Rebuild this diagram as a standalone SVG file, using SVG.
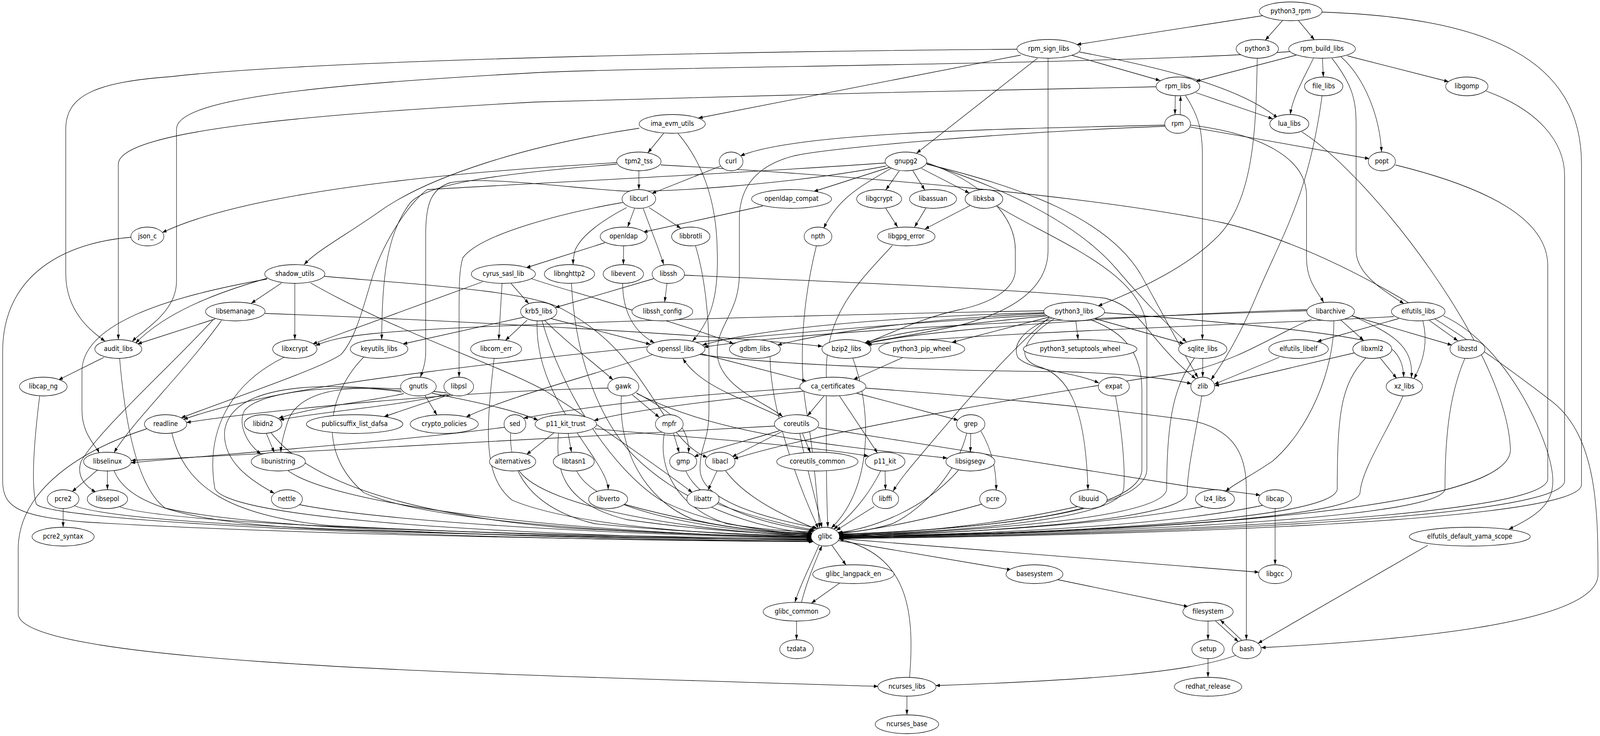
<svg xmlns="http://www.w3.org/2000/svg" width="4841" height="1883" viewBox="0 0 4841 1883" preserveAspectRatio="none" style="width:100%;height:100%">
<defs>
<marker id="arr" viewBox="0 0 13 9" refX="13" refY="4.5" markerWidth="13" markerHeight="9" markerUnits="userSpaceOnUse" orient="auto"><path d="M0,0 L13,4.5 L0,9 z" fill="#000"/></marker>
</defs>
<style>
.n ellipse{fill:#fff;stroke:#000;stroke-width:1.3}
.n text{font-family:"DejaVu Sans","Liberation Sans",sans-serif;font-size:18.3px;text-anchor:middle;fill:#000}
#edges path{fill:none;stroke:#000;stroke-width:1.3;marker-end:url(#arr)}
</style>
<rect width="4841" height="1883" fill="#fff"/>
<g id="edges">
<path d="M3821,40 L3258,114"/>
<path d="M3881,52 L3828,103"/>
<path d="M3928,52 L3977,102"/>
<path d="M4000,31 C4500,45 4785,150 4785,420 L4785,1240 C4785,1340 3300,1372 2539,1378"/>
<path d="M3077,126 C2400,130 1000,150 517,196 C300,210 199,240 199,330 L199,700 C199,800 280,850 318,873"/>
<path d="M3088,141 L2113,302"/>
<path d="M3139,149 L2773,392"/>
<path d="M3241,141 L3510,206"/>
<path d="M3266,133 C3560,180 3760,230 3866,302"/>
<path d="M3171,149 L3171,640 C3171,720 3100,790 2900,833 C2780,855 2680,868 2618,877"/>
<path d="M3804,149 C3800,300 3800,500 3690,600 C3600,680 3450,740 3322,783"/>
<path d="M3902,132 C3400,165 2000,170 1620,186 C1000,215 534,250 534,330 L534,720 C534,800 430,845 400,874"/>
<path d="M3922,141 L3618,208"/>
<path d="M4001,149 L4004,197"/>
<path d="M4077,143 L4383,209"/>
<path d="M3974,149 C3945,200 3910,250 3904,293"/>
<path d="M4057,145 C4130,200 4175,300 4180,389"/>
<path d="M4030,149 C4095,220 4103,260 4103,320 L4103,640 C4103,700 4180,740 4248,777"/>
<path d="M3498,222 C3000,230 1700,255 1620,261 C1000,290 358,330 358,420 L358,869"/>
<path d="M3556,245 L3555,293"/>
<path d="M3618,237 L3851,304"/>
<path d="M3587,245 C3630,300 3638,340 3638,400 L3638,869"/>
<path d="M3571,293 L3572,245"/>
<path d="M3525,320 C3000,330 2400,340 2240,399"/>
<path d="M3601,325 L4143,406"/>
<path d="M3525,323 C3000,340 2500,380 2406,398 C2300,420 2237,470 2237,560 L2237,700 C2237,800 2170,830 2170,900 C2170,990 2320,1030 2368,1066"/>
<path d="M3602,320 C3800,340 3953,400 3953,500 L3953,660 C3953,720 3990,750 4005,774"/>
<path d="M4000,245 C3960,500 3880,600 3800,760 C3740,880 3690,940 3664,972"/>
<path d="M4496,233 C4650,280 4734,360 4734,450 L4734,1230 C4734,1335 3300,1370 2539,1377"/>
<path d="M3938,337 C4150,450 4560,900 4570,1150 C4575,1320 3300,1365 2540,1375"/>
<path d="M4222,422 C4500,480 4683,560 4683,680 L4683,1225 C4683,1330 3300,1368 2540,1376"/>
<path d="M2008,341 L1960,391"/>
<path d="M1934,328 C1600,370 1300,450 1150,540 C1050,600 960,640 920,677"/>
<path d="M2051,341 C2130,420 2168,520 2170,640 C2175,760 2150,820 2095,873"/>
<path d="M1933,437 L1933,485"/>
<path d="M1866,416 C1600,430 800,470 491,595"/>
<path d="M1866,420 C1500,445 1290,470 1240,520 C1180,590 1155,680 1155,869"/>
<path d="M1999,422 C2600,450 3300,500 3700,570 C4100,650 4500,900 4700,1030 C4830,1120 4835,1300 4835,1470 C4835,1600 4200,1640 3816,1657"/>
<path d="M2180,425 L1972,495"/>
<path d="M2695,427 L2462,490"/>
<path d="M2721,437 L2680,486"/>
<path d="M2762,437 L2798,486"/>
<path d="M2788,431 L2933,494"/>
<path d="M2697,430 C2620,470 2540,500 2492,584"/>
<path d="M2680,425 C2400,470 2000,495 1869,488 C1700,478 1450,450 1360,468 C1300,485 1288,530 1288,600 L1288,900 C1288,930 1278,950 1272,965"/>
<path d="M2678,417 C2300,440 1700,465 1293,485 C1250,510 1170,600 1130,700 C1100,780 1080,860 1033,906 C980,940 700,1020 548,1069"/>
<path d="M2804,416 C2950,460 3072,540 3072,640 L3072,690 C3072,740 3000,775 2900,793 C2780,815 2680,860 2614,879"/>
<path d="M2803,418 C3000,470 3250,560 3380,690 C3450,760 3530,830 3590,875"/>
<path d="M2804,420 C3100,480 3350,560 3450,700 C3530,820 3590,920 3625,966"/>
<path d="M1920,533 L1899,581"/>
<path d="M1964,531 L2060,584"/>
<path d="M1896,531 C1830,560 1760,600 1740,640 C1735,655 1734,665 1734,677"/>
<path d="M1946,533 C1975,600 1995,640 2008,677"/>
<path d="M1884,518 C1700,545 1450,600 1400,660 C1390,690 1389,720 1389,800 L1389,965"/>
<path d="M2308,527 L1946,594"/>
<path d="M2680,533 L2716,581"/>
<path d="M2801,533 L2767,581"/>
<path d="M2935,526 L2798,586"/>
<path d="M1830,621 L1592,685"/>
<path d="M1887,629 L1886,677"/>
<path d="M2104,628 C2130,700 2145,800 2145,900 L2145,1050 C2145,1130 2118,1140 2118,1200 C2118,1300 2420,1340 2474,1352"/>
<path d="M2470,629 C2420,800 2420,950 2440,1050 C2460,1150 2470,1250 2480,1351"/>
<path d="M2700,628 C2600,720 2500,800 2500,950 L2500,1100 C2500,1200 2502,1300 2505,1349"/>
<path d="M397,607 C200,620 8,700 8,900 L8,1230 C8,1300 60,1320 250,1335 C900,1370 2100,1385 2459,1384"/>
<path d="M808,712 C650,750 500,800 410,878"/>
<path d="M852,724 L760,776"/>
<path d="M892,725 L892,869"/>
<path d="M808,714 C500,760 248,830 248,950 L248,1050 C248,1110 290,1140 300,1159"/>
<path d="M981,707 C1300,730 1600,745 1700,790 C1900,880 1950,1000 2050,1110 C2090,1150 2115,1162 2140,1170"/>
<path d="M940,724 C1200,850 1500,930 1650,1000 C1800,1080 2000,1200 2095,1260"/>
<path d="M1546,725 L1600,777"/>
<path d="M1460,721 L946,880"/>
<path d="M1519,725 L1509,869"/>
<path d="M1605,712 C1700,740 1800,760 1900,790 C2050,830 2150,855 2220,880"/>
<path d="M1729,725 C1740,900 1800,1050 1900,1150 C2050,1290 2300,1355 2458,1364"/>
<path d="M1884,725 C1884,800 1920,850 1980,877"/>
<path d="M1978,713 L1680,787"/>
<path d="M2018,725 L2011,773"/>
<path d="M2071,704 C2500,720 3100,740 3344,763 C3420,780 3450,820 3500,870 C3560,930 3590,950 3618,969"/>
<path d="M651,816 L416,880"/>
<path d="M802,802 C1400,820 2200,860 2488,886"/>
<path d="M670,820 C560,950 400,1080 345,1158"/>
<path d="M645,818 C500,950 300,1100 245,1181 C230,1220 260,1245 290,1259"/>
<path d="M1587,811 L1219,880"/>
<path d="M1595,819 L1529,871"/>
<path d="M1667,815 L1968,881"/>
<path d="M1648,820 C1720,880 1800,930 1855,972"/>
<path d="M1625,821 C1620,950 1700,1050 1780,1150 C1820,1200 1840,1230 1840,1253"/>
<path d="M1640,821 C1700,1000 1850,1200 2000,1280 C2150,1345 2350,1364 2457,1365"/>
<path d="M3159,795 C2500,805 1400,830 1136,853 C1050,860 1000,868 955,884"/>
<path d="M3160,800 C2700,810 2300,840 2125,883"/>
<path d="M3160,802 C2800,815 2500,850 2352,883"/>
<path d="M3170,808 C2900,830 2700,850 2616,878"/>
<path d="M3175,811 L2880,876"/>
<path d="M3255,821 L3262,869"/>
<path d="M3312,815 L3582,879"/>
<path d="M3341,800 C3800,830 4180,860 4220,900 C4240,920 4246,940 4247,965"/>
<path d="M3162,806 C2600,830 1800,900 1600,920 C1200,960 800,1000 555,1073"/>
<path d="M3185,813 C3100,840 3060,880 3080,915 C3120,950 3250,950 3325,980"/>
<path d="M3175,812 C3050,900 2900,1050 2800,1150 C2750,1200 2720,1230 2702,1257"/>
<path d="M3190,815 C3090,870 3070,920 3150,940 C3260,970 3285,1100 3292,1253"/>
<path d="M3300,818 C3400,850 3455,900 3455,1000 L3455,1200 C3455,1320 2900,1358 2538,1366"/>
<path d="M3954,792 C3500,805 2800,840 2620,880"/>
<path d="M3954,795 C3400,810 2500,840 2130,888"/>
<path d="M4057,819 L4126,871"/>
<path d="M4090,808 L4393,883"/>
<path d="M4092,808 C4200,850 4280,880 4270,967"/>
<path d="M4036,821 C4036,950 3960,1100 3850,1180 C3780,1220 3730,1240 3708,1258"/>
<path d="M3969,816 C3850,860 3750,920 3600,950 C3200,1000 2500,1100 2220,1174"/>
<path d="M4217,810 C3800,830 3000,850 2624,882"/>
<path d="M4232,815 L3985,874"/>
<path d="M4325,820 L4411,872"/>
<path d="M4305,821 C4320,870 4310,920 4278,969"/>
<path d="M4367,808 C4500,860 4620,1000 4680,1150 C4720,1260 4700,1300 4565,1354"/>
<path d="M315,914 L177,972"/>
<path d="M362,917 C380,1100 420,1250 500,1300 C800,1360 1800,1380 2459,1384"/>
<path d="M860,914 C700,980 620,1100 650,1250 C700,1340 1800,1375 2457,1382"/>
<path d="M1100,914 C1000,1000 950,1150 1100,1260 C1300,1340 2000,1370 2454,1373"/>
<path d="M1495,917 C1470,1100 1460,1220 1550,1280 C1750,1350 2200,1370 2454,1372"/>
<path d="M2117,904 L2440,975"/>
<path d="M1975,907 C1800,960 1550,1010 1410,1067"/>
<path d="M2117,907 C2400,940 3000,950 3220,951 C3400,955 3550,970 3605,982"/>
<path d="M2330,912 C2330,1050 2420,1250 2476,1352"/>
<path d="M2580,916 C2640,1050 2640,1250 2515,1351"/>
<path d="M2731,915 L2582,971"/>
<path d="M3639,917 L3639,965"/>
<path d="M3614,916 C3560,980 3530,1050 3530,1250 C3530,1330 2900,1360 2540,1371"/>
<path d="M3871,914 L3674,983"/>
<path d="M4097,903 L3675,987"/>
<path d="M4176,916 L4226,968"/>
<path d="M4132,916 C4060,980 4046,1050 4046,1250 C4046,1340 3000,1369 2540,1373"/>
<path d="M4432,917 C4390,1000 4372,1100 4372,1250 C4372,1340 3000,1370 2540,1374"/>
<path d="M120,1013 C100,1150 95,1250 110,1290 C150,1330 1200,1380 2461,1386"/>
<path d="M1222,1007 C1100,1030 950,1040 843,1070"/>
<path d="M1286,1012 L1322,1062"/>
<path d="M1307,1006 C1450,1030 1560,1050 1628,1075"/>
<path d="M1215,1003 C1050,980 900,1000 870,1080 C855,1120 850,1140 850,1157"/>
<path d="M1213,1000 C900,970 700,1000 680,1100 C670,1180 760,1230 830,1262"/>
<path d="M1355,1008 C1200,1040 1000,1050 846,1074"/>
<path d="M1362,1009 L1162,1066"/>
<path d="M1350,1005 C1100,980 800,990 740,1050 C720,1080 740,1130 790,1162"/>
<path d="M1913,1010 L1995,1068"/>
<path d="M1925,1005 C2000,1040 2090,1080 2083,1159"/>
<path d="M1927,1007 C2150,1100 2400,1130 2866,1172"/>
<path d="M1840,993 C1400,1000 800,1050 564,1081"/>
<path d="M1880,1013 C1870,1150 1950,1280 2100,1330 C2250,1360 2380,1362 2458,1364"/>
<path d="M2494,1012 L2443,1064"/>
<path d="M2430,1001 C2200,1020 1900,1050 1797,1076"/>
<path d="M2421,993 C2100,1010 1800,1035 1584,1070"/>
<path d="M2592,1006 L2899,1075"/>
<path d="M2540,1013 L2655,1159"/>
<path d="M2620,993 C2900,1010 3300,1040 3600,1075 C3720,1095 3771,1150 3771,1250 L3771,1637"/>
<path d="M3375,1013 C3395,1100 3405,1200 3400,1250 C3390,1330 2900,1360 2539,1369"/>
<path d="M3636,1013 C3620,1100 3592,1200 3592,1260 C3592,1335 2900,1365 2540,1372"/>
<path d="M4245,1013 C4200,1100 4120,1200 4115,1260 C4110,1340 3000,1368 2540,1373"/>
<path d="M444,1097 C250,1150 60,1250 55,1400 L55,1570 C55,1700 1500,1725 2657,1756"/>
<path d="M520,1108 C560,1250 700,1320 1000,1345 C1600,1370 2100,1380 2456,1380"/>
<path d="M806,1109 L830,1158"/>
<path d="M820,1107 C950,1250 1300,1320 1700,1350 C2100,1370 2350,1374 2454,1374"/>
<path d="M1527,1093 C1200,1130 700,1160 396,1184"/>
<path d="M1545,1108 C1540,1200 1600,1300 1800,1340 C2100,1365 2350,1370 2454,1370"/>
<path d="M1678,1106 L1593,1163"/>
<path d="M1719,1109 L1729,1157"/>
<path d="M1800,1097 C2100,1120 2450,1140 2628,1167"/>
<path d="M1690,1108 C1680,1200 1700,1290 1900,1330 C2150,1360 2350,1367 2455,1368"/>
<path d="M2038,1109 L2055,1158"/>
<path d="M2010,1108 C1990,1200 2050,1300 2200,1340 C2300,1355 2400,1360 2460,1360"/>
<path d="M2360,1066 C2250,1020 2120,990 2066,917"/>
<path d="M2344,1090 C2000,1110 1000,1150 397,1178"/>
<path d="M2358,1102 C2250,1130 2150,1150 2100,1169"/>
<path d="M2366,1104 L2215,1169"/>
<path d="M2428,1109 L2452,1158"/>
<path d="M2475,1094 C2900,1150 3400,1220 3600,1245 C3700,1255 3780,1262 3813,1267"/>
<path d="M2420,1109 C2440,1200 2470,1280 2487,1350"/>
<path d="M2937,1109 L2936,1157"/>
<path d="M2968,1103 C3000,1150 3015,1200 3014,1254"/>
<path d="M2925,1108 C2900,1200 2800,1300 2700,1340 C2620,1360 2570,1362 2535,1362"/>
<path d="M294,1203 L218,1258"/>
<path d="M325,1205 L325,1253"/>
<path d="M345,1204 C390,1300 600,1340 1000,1355 C1700,1375 2200,1380 2455,1379"/>
<path d="M870,1203 C1000,1290 1700,1365 2454,1375"/>
<path d="M1570,1204 C1650,1300 2100,1360 2454,1371"/>
<path d="M1745,1205 C1800,1300 2100,1355 2455,1369"/>
<path d="M2075,1205 C2120,1290 2300,1340 2462,1358"/>
<path d="M2170,1204 L2142,1254"/>
<path d="M2195,1204 C2260,1280 2400,1330 2470,1353"/>
<path d="M2678,1205 L2679,1253"/>
<path d="M2665,1204 C2620,1280 2560,1330 2522,1354"/>
<path d="M2900,1203 C2800,1300 2650,1350 2536,1363"/>
<path d="M191,1301 L191,1349"/>
<path d="M225,1294 C400,1350 1600,1375 2456,1381"/>
<path d="M360,1296 C500,1340 1500,1370 2455,1378"/>
<path d="M905,1291 C1200,1340 2000,1372 2454,1376"/>
<path d="M1888,1290 C2100,1340 2300,1363 2456,1367"/>
<path d="M2170,1289 C2300,1330 2420,1350 2465,1356"/>
<path d="M2645,1296 L2530,1357"/>
<path d="M2970,1290 C2800,1330 2650,1355 2537,1365"/>
<path d="M3260,1296 C3000,1345 2750,1365 2538,1366"/>
<path d="M3640,1296 C3300,1350 2800,1368 2539,1368"/>
<path d="M3820,1293 C3500,1350 2900,1370 2540,1370"/>
<path d="M3858,1301 L3858,1445"/>
<path d="M3018,528 C3200,620 3470,700 3470,850 L3470,1200 C3470,1320 2900,1356 2538,1367"/>
<path d="M2517,1395 L2560,1446"/>
<path d="M2478,1395 C2450,1450 2420,1500 2405,1541"/>
<path d="M2537,1383 L3060,1458"/>
<path d="M2539,1378 L3809,1464"/>
<path d="M2540,1492 L2455,1543"/>
<path d="M2425,1541 C2440,1490 2465,1440 2487,1396"/>
<path d="M2410,1589 L2410,1637"/>
<path d="M3200,1483 L3595,1552"/>
<path d="M3655,1589 L3655,1637"/>
<path d="M3677,1588 L3747,1642"/>
<path d="M3758,1639 L3692,1586"/>
<path d="M3738,1677 C3600,1720 3300,1740 2831,1754"/>
<path d="M3655,1685 L3655,1733"/>
<path d="M2744,1781 L2744,1829"/>
<path d="M2752,1733 C2770,1550 2740,1420 2539,1379"/>
<path d="M4320,1395 L3806,1646"/>
</g>
<g id="python3_rpm" class="n"><ellipse cx="3905" cy="29" rx="95" ry="24"/><text x="3905" y="34">python3_rpm</text></g>
<g id="rpm_sign_libs" class="n"><ellipse cx="3173" cy="125" rx="96" ry="24"/><text x="3173" y="130">rpm_sign_libs</text></g>
<g id="python3" class="n"><ellipse cx="3804" cy="125" rx="64" ry="24"/><text x="3804" y="130">python3</text></g>
<g id="rpm_build_libs" class="n"><ellipse cx="4000" cy="125" rx="101" ry="24"/><text x="4000" y="130">rpm_build_libs</text></g>
<g id="rpm_libs" class="n"><ellipse cx="3564" cy="221" rx="66" ry="24"/><text x="3564" y="226">rpm_libs</text></g>
<g id="file_libs" class="n"><ellipse cx="4005" cy="221" rx="58" ry="24"/><text x="4005" y="226">file_libs</text></g>
<g id="libgomp" class="n"><ellipse cx="4438" cy="221" rx="64" ry="24"/><text x="4438" y="226">libgomp</text></g>
<g id="ima_evm_utils" class="n"><ellipse cx="2034" cy="317" rx="100" ry="24"/><text x="2034" y="322">ima_evm_utils</text></g>
<g id="rpm" class="n"><ellipse cx="3563" cy="317" rx="39" ry="24"/><text x="3563" y="322">rpm</text></g>
<g id="lua_libs" class="n"><ellipse cx="3901" cy="317" rx="59" ry="24"/><text x="3901" y="322">lua_libs</text></g>
<g id="tpm2_tss" class="n"><ellipse cx="1933" cy="413" rx="67" ry="24"/><text x="1933" y="418">tpm2_tss</text></g>
<g id="curl" class="n"><ellipse cx="2212" cy="413" rx="36" ry="24"/><text x="2212" y="418">curl</text></g>
<g id="gnupg2" class="n"><ellipse cx="2741" cy="413" rx="63" ry="24"/><text x="2741" y="418">gnupg2</text></g>
<g id="popt" class="n"><ellipse cx="4181" cy="413" rx="41" ry="24"/><text x="4181" y="418">popt</text></g>
<g id="libcurl" class="n"><ellipse cx="1933" cy="509" rx="51" ry="24"/><text x="1933" y="514">libcurl</text></g>
<g id="openldap_compat" class="n"><ellipse cx="2395" cy="509" rx="121" ry="24"/><text x="2395" y="514">openldap_compat</text></g>
<g id="libgcrypt" class="n"><ellipse cx="2660" cy="509" rx="68" ry="24"/><text x="2660" y="514">libgcrypt</text></g>
<g id="libassuan" class="n"><ellipse cx="2823" cy="509" rx="71" ry="24"/><text x="2823" y="514">libassuan</text></g>
<g id="libksba" class="n"><ellipse cx="2977" cy="509" rx="57" ry="24"/><text x="2977" y="514">libksba</text></g>
<g id="json_c" class="n"><ellipse cx="446" cy="605" rx="50" ry="24"/><text x="446" y="610">json_c</text></g>
<g id="openldap" class="n"><ellipse cx="1887" cy="605" rx="71" ry="24"/><text x="1887" y="610">openldap</text></g>
<g id="libbrotli" class="n"><ellipse cx="2090" cy="605" rx="58" ry="24"/><text x="2090" y="610">libbrotli</text></g>
<g id="npth" class="n"><ellipse cx="2475" cy="605" rx="42" ry="24"/><text x="2475" y="610">npth</text></g>
<g id="libgpg_error" class="n"><ellipse cx="2742" cy="605" rx="87" ry="24"/><text x="2742" y="610">libgpg_error</text></g>
<g id="shadow_utils" class="n"><ellipse cx="892" cy="701" rx="91" ry="24"/><text x="892" y="706">shadow_utils</text></g>
<g id="cyrus_sasl_lib" class="n"><ellipse cx="1523" cy="701" rx="97" ry="24"/><text x="1523" y="706">cyrus_sasl_lib</text></g>
<g id="libnghttp2" class="n"><ellipse cx="1723" cy="701" rx="76" ry="24"/><text x="1723" y="706">libnghttp2</text></g>
<g id="libevent" class="n"><ellipse cx="1886" cy="701" rx="61" ry="24"/><text x="1886" y="706">libevent</text></g>
<g id="libssh" class="n"><ellipse cx="2022" cy="701" rx="49" ry="24"/><text x="2022" y="706">libssh</text></g>
<g id="libsemanage" class="n"><ellipse cx="712" cy="797" rx="90" ry="24"/><text x="712" y="802">libsemanage</text></g>
<g id="krb5_libs" class="n"><ellipse cx="1630" cy="797" rx="55" ry="24"/><text x="1630" y="802">krb5_libs</text></g>
<g id="libssh_config" class="n"><ellipse cx="2004" cy="797" rx="92" ry="24"/><text x="2004" y="802">libssh_config</text></g>
<g id="python3_libs" class="n"><ellipse cx="3250" cy="797" rx="92" ry="24"/><text x="3250" y="802">python3_libs</text></g>
<g id="libarchive" class="n"><ellipse cx="4026" cy="797" rx="72" ry="24"/><text x="4026" y="802">libarchive</text></g>
<g id="elfutils_libs" class="n"><ellipse cx="4291" cy="797" rx="81" ry="24"/><text x="4291" y="802">elfutils_libs</text></g>
<g id="audit_libs" class="n"><ellipse cx="358" cy="893" rx="71" ry="24"/><text x="358" y="898">audit_libs</text></g>
<g id="libxcrypt" class="n"><ellipse cx="892" cy="893" rx="67" ry="24"/><text x="892" y="898">libxcrypt</text></g>
<g id="keyutils_libs" class="n"><ellipse cx="1147" cy="893" rx="87" ry="24"/><text x="1147" y="898">keyutils_libs</text></g>
<g id="libcom_err" class="n"><ellipse cx="1501" cy="893" rx="77" ry="24"/><text x="1501" y="898">libcom_err</text></g>
<g id="openssl_libs" class="n"><ellipse cx="2045" cy="893" rx="88" ry="24"/><text x="2045" y="898">openssl_libs</text></g>
<g id="gdbm_libs" class="n"><ellipse cx="2284" cy="893" rx="77" ry="24"/><text x="2284" y="898">gdbm_libs</text></g>
<g id="bzip2_libs" class="n"><ellipse cx="2561" cy="893" rx="74" ry="24"/><text x="2561" y="898">bzip2_libs</text></g>
<g id="python3_pip_wheel" class="n"><ellipse cx="2789" cy="893" rx="130" ry="24"/><text x="2789" y="898">python3_pip_wheel</text></g>
<g id="python3_setuptools_wheel" class="n"><ellipse cx="3268" cy="893" rx="172" ry="24"/><text x="3268" y="898">python3_setuptools_wheel</text></g>
<g id="sqlite_libs" class="n"><ellipse cx="3639" cy="893" rx="73" ry="24"/><text x="3639" y="898">sqlite_libs</text></g>
<g id="elfutils_libelf" class="n"><ellipse cx="3929" cy="893" rx="90" ry="24"/><text x="3929" y="898">elfutils_libelf</text></g>
<g id="libxml2" class="n"><ellipse cx="4152" cy="893" rx="59" ry="24"/><text x="4152" y="898">libxml2</text></g>
<g id="libzstd" class="n"><ellipse cx="4440" cy="893" rx="53" ry="24"/><text x="4440" y="898">libzstd</text></g>
<g id="libcap_ng" class="n"><ellipse cx="131" cy="989" rx="72" ry="24"/><text x="131" y="994">libcap_ng</text></g>
<g id="gnutls" class="n"><ellipse cx="1266" cy="989" rx="54" ry="24"/><text x="1266" y="994">gnutls</text></g>
<g id="libpsl" class="n"><ellipse cx="1388" cy="989" rx="45" ry="24"/><text x="1388" y="994">libpsl</text></g>
<g id="gawk" class="n"><ellipse cx="1886" cy="989" rx="47" ry="24"/><text x="1886" y="994">gawk</text></g>
<g id="ca_certificates" class="n"><ellipse cx="2520" cy="989" rx="100" ry="24"/><text x="2520" y="994">ca_certificates</text></g>
<g id="expat" class="n"><ellipse cx="3370" cy="989" rx="47" ry="24"/><text x="3370" y="994">expat</text></g>
<g id="zlib" class="n"><ellipse cx="3639" cy="989" rx="36" ry="24"/><text x="3639" y="994">zlib</text></g>
<g id="xz_libs" class="n"><ellipse cx="4249" cy="989" rx="55" ry="24"/><text x="4249" y="994">xz_libs</text></g>
<g id="readline" class="n"><ellipse cx="501" cy="1085" rx="64" ry="24"/><text x="501" y="1090">readline</text></g>
<g id="libidn2" class="n"><ellipse cx="796" cy="1085" rx="57" ry="24"/><text x="796" y="1090">libidn2</text></g>
<g id="publicsuffix_list_dafsa" class="n"><ellipse cx="1073" cy="1085" rx="146" ry="24"/><text x="1073" y="1090">publicsuffix_list_dafsa</text></g>
<g id="crypto_policies" class="n"><ellipse cx="1344" cy="1085" rx="103" ry="24"/><text x="1344" y="1090">crypto_policies</text></g>
<g id="sed" class="n"><ellipse cx="1558" cy="1085" rx="33" ry="24"/><text x="1558" y="1090">sed</text></g>
<g id="p11_kit_trust" class="n"><ellipse cx="1712" cy="1085" rx="93" ry="24"/><text x="1712" y="1090">p11_kit_trust</text></g>
<g id="mpfr" class="n"><ellipse cx="2025" cy="1085" rx="42" ry="24"/><text x="2025" y="1090">mpfr</text></g>
<g id="coreutils" class="n"><ellipse cx="2410" cy="1085" rx="67" ry="24"/><text x="2410" y="1090">coreutils</text></g>
<g id="grep" class="n"><ellipse cx="2937" cy="1085" rx="43" ry="24"/><text x="2937" y="1090">grep</text></g>
<g id="libselinux" class="n"><ellipse cx="325" cy="1181" rx="72" ry="24"/><text x="325" y="1186">libselinux</text></g>
<g id="libunistring" class="n"><ellipse cx="842" cy="1181" rx="82" ry="24"/><text x="842" y="1186">libunistring</text></g>
<g id="alternatives" class="n"><ellipse cx="1551" cy="1181" rx="70" ry="24"/><text x="1551" y="1186">alternatives</text></g>
<g id="libtasn1" class="n"><ellipse cx="1736" cy="1181" rx="62" ry="24"/><text x="1736" y="1186">libtasn1</text></g>
<g id="gmp" class="n"><ellipse cx="2067" cy="1181" rx="41" ry="24"/><text x="2067" y="1186">gmp</text></g>
<g id="libacl" class="n"><ellipse cx="2179" cy="1181" rx="45" ry="24"/><text x="2179" y="1186">libacl</text></g>
<g id="coreutils_common" class="n"><ellipse cx="2473" cy="1181" rx="123" ry="24"/><text x="2473" y="1186">coreutils_common</text></g>
<g id="p11_kit" class="n"><ellipse cx="2678" cy="1181" rx="60" ry="24"/><text x="2678" y="1186">p11_kit</text></g>
<g id="libsigsegv" class="n"><ellipse cx="2936" cy="1181" rx="74" ry="24"/><text x="2936" y="1186">libsigsegv</text></g>
<g id="pcre2" class="n"><ellipse cx="191" cy="1277" rx="48" ry="24"/><text x="191" y="1282">pcre2</text></g>
<g id="libsepol" class="n"><ellipse cx="325" cy="1277" rx="61" ry="24"/><text x="325" y="1282">libsepol</text></g>
<g id="nettle" class="n"><ellipse cx="868" cy="1277" rx="47" ry="24"/><text x="868" y="1282">nettle</text></g>
<g id="libverto" class="n"><ellipse cx="1840" cy="1277" rx="59" ry="24"/><text x="1840" y="1282">libverto</text></g>
<g id="libattr" class="n"><ellipse cx="2127" cy="1277" rx="49" ry="24"/><text x="2127" y="1282">libattr</text></g>
<g id="libffi" class="n"><ellipse cx="2679" cy="1277" rx="40" ry="24"/><text x="2679" y="1282">libffi</text></g>
<g id="pcre" class="n"><ellipse cx="3004" cy="1277" rx="40" ry="24"/><text x="3004" y="1282">pcre</text></g>
<g id="libuuid" class="n"><ellipse cx="3294" cy="1277" rx="56" ry="24"/><text x="3294" y="1282">libuuid</text></g>
<g id="lz4_libs" class="n"><ellipse cx="3676" cy="1277" rx="59" ry="24"/><text x="3676" y="1282">lz4_libs</text></g>
<g id="libcap" class="n"><ellipse cx="3858" cy="1277" rx="50" ry="24"/><text x="3858" y="1282">libcap</text></g>
<g id="glibc" class="n"><ellipse cx="2497" cy="1373" rx="43" ry="24"/><text x="2497" y="1378">glibc</text></g>
<g id="pcre2_syntax" class="n"><ellipse cx="191" cy="1373" rx="94" ry="24"/><text x="191" y="1378">pcre2_syntax</text></g>
<g id="elfutils_default_yama_scope" class="n"><ellipse cx="4447" cy="1373" rx="183" ry="24"/><text x="4447" y="1378">elfutils_default_yama_scope</text></g>
<g id="glibc_langpack_en" class="n"><ellipse cx="2582" cy="1469" rx="123" ry="24"/><text x="2582" y="1474">glibc_langpack_en</text></g>
<g id="basesystem" class="n"><ellipse cx="3130" cy="1469" rx="86" ry="24"/><text x="3130" y="1474">basesystem</text></g>
<g id="libgcc" class="n"><ellipse cx="3858" cy="1469" rx="50" ry="24"/><text x="3858" y="1474">libgcc</text></g>
<g id="glibc_common" class="n"><ellipse cx="2410" cy="1565" rx="101" ry="24"/><text x="2410" y="1570">glibc_common</text></g>
<g id="filesystem" class="n"><ellipse cx="3655" cy="1565" rx="76" ry="24"/><text x="3655" y="1570">filesystem</text></g>
<g id="tzdata" class="n"><ellipse cx="2410" cy="1661" rx="51" ry="24"/><text x="2410" y="1666">tzdata</text></g>
<g id="setup" class="n"><ellipse cx="3655" cy="1661" rx="49" ry="24"/><text x="3655" y="1666">setup</text></g>
<g id="bash" class="n"><ellipse cx="3772" cy="1661" rx="44" ry="24"/><text x="3772" y="1666">bash</text></g>
<g id="redhat_release" class="n"><ellipse cx="3655" cy="1757" rx="102" ry="24"/><text x="3655" y="1762">redhat_release</text></g>
<g id="ncurses_libs" class="n"><ellipse cx="2744" cy="1757" rx="88" ry="24"/><text x="2744" y="1762">ncurses_libs</text></g>
<g id="ncurses_base" class="n"><ellipse cx="2744" cy="1853" rx="96" ry="24"/><text x="2744" y="1858">ncurses_base</text></g>
</svg>
